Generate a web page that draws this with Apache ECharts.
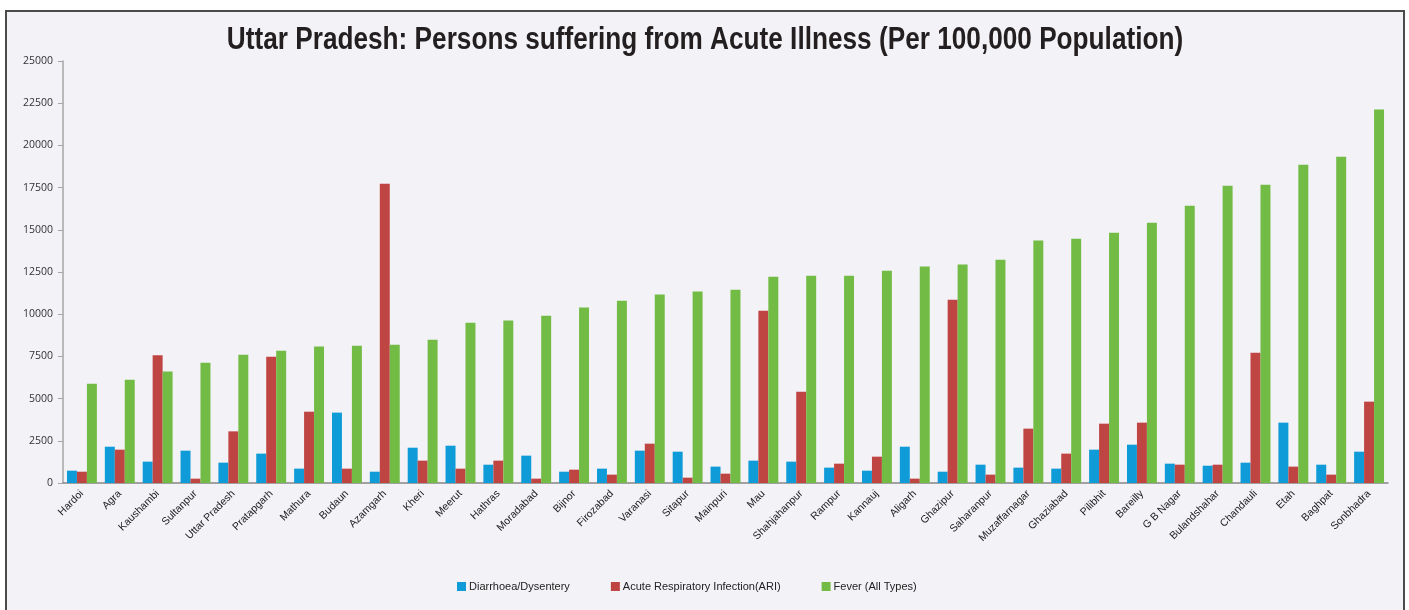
<!DOCTYPE html>
<html>
<head>
<meta charset="utf-8">
<script src="https://cdn.jsdelivr.net/npm/echarts@6/dist/echarts.min.js"></script>
<style>
  body { margin: 0; background: #ffffff; }
  #frame {
    position: absolute; left: 5px; top: 10px; width: 1396px; height: 620px;
    border: 2px solid #4b4b4b; background: #f3f2f7;
  }
  #chart { position: absolute; left: 0; top: 0; width: 1409px; height: 610px; }
</style>
</head>
<body>
<div id="frame"></div>
<div id="chart"></div>
<script>
// districts, sorted by fever cases
var districts = ['Hardoi', 'Agra', 'Kaushambi', 'Sultanpur', 'Uttar Pradesh', 'Pratapgarh', 'Mathura',
  'Budaun', 'Azamgarh', 'Kheri', 'Meerut', 'Hathras', 'Moradabad', 'Bijnor', 'Firozabad', 'Varanasi',
  'Sitapur', 'Mainpuri', 'Mau', 'Shahjahanpur', 'Rampur', 'Kannauj', 'Aligarh', 'Ghazipur', 'Saharanpur',
  'Muzaffarnagar', 'Ghaziabad', 'Pilibhit', 'Bareilly', 'G B Nagar', 'Bulandshahar', 'Chandauli', 'Etah',
  'Baghpat', 'Sonbhadra'];

var diarrhoea = [730, 2150, 1265, 1915, 1205, 1740, 850, 4170, 670, 2090, 2210, 1085, 1620, 670, 850, 1915,
  1855, 970, 1325, 1265, 910, 730, 2150, 670, 1085, 910, 850, 1975, 2270, 1145, 1025, 1205, 3575, 1085, 1855];

var ari = [670, 1975, 7565, 257, 3060, 7485, 4225, 850, 17730, 1325, 850, 1325, 257, 790, 495, 2330,
  316, 553, 10210, 5410, 1145, 1560, 257, 10860, 495, 3220, 1740, 3515, 3575, 1085, 1085, 7720, 970, 495, 4820];

var fever = [5885, 6120, 6600, 7130, 7600, 7840, 8080, 8135, 8195, 8490, 9500, 9620, 9915, 10390, 10800, 11160,
  11340, 11455, 12225, 12285, 12285, 12580, 12820, 12940, 13230, 14360, 14475, 14830, 15425, 16430, 17615,
  17675, 18860, 19335, 22120];

var yMin = 0, yMax = 25000, yStep = 2500;

var titleText = 'Uttar Pradesh: Persons suffering from Acute Illness (Per 100,000 Population)';
var sans = "'Liberation Sans', Arial, sans-serif";

var myChart = echarts.init(document.getElementById('chart'));

var option = {
  animation: false,
  // title drawn as graphic text so it can be squeezed like a narrow face
  graphic: [{
    type: 'text',
    x: 705,
    y: 25,
    scaleX: 0.845,
    style: {
      text: titleText,
      textAlign: 'center',
      textVerticalAlign: 'top',
      font: 'bold 31px ' + sans,
      fill: '#231f20'
    }
  }],
  legend: {
    top: 576,
    left: 452,
    icon: 'rect',
    itemWidth: 9,
    itemHeight: 9,
    itemGap: 41,
    textStyle: { fontFamily: sans, fontSize: 11, color: '#222', padding: [0, 0, 0, -2] }
  },
  grid: { left: 63, right: 21, top: 61, bottom: 127 },
  xAxis: {
    type: 'category',
    data: districts,
    axisLine: { lineStyle: { color: '#868686', width: 1.5 } },
    axisTick: { length: 5, lineStyle: { color: '#868686' } },
    axisLabel: { interval: 0, rotate: 45, margin: 9, fontFamily: sans, fontSize: 10.5, color: '#222' }
  },
  yAxis: {
    type: 'value',
    min: yMin,
    max: yMax,
    interval: yStep,
    splitLine: { show: false },
    axisLine: { show: true, lineStyle: { color: '#a6a6a6', width: 1.5 } },
    axisTick: { show: true, length: 5, lineStyle: { color: '#a6a6a6' } },
    axisLabel: {
      margin: 10, fontFamily: "'Open Sans', sans-serif", fontSize: 10.5, color: '#333',
      formatter: function (v) { return String(v); }
    }
  },
  series: [
    { name: 'Diarrhoea/Dysentery', type: 'bar', data: diarrhoea, barGap: '0%', barCategoryGap: '21%',
      itemStyle: { color: '#0e9bd7' } },
    { name: 'Acute Respiratory Infection(ARI)', type: 'bar', data: ari,
      itemStyle: { color: '#bf4543' } },
    { name: 'Fever (All Types)', type: 'bar', data: fever,
      itemStyle: { color: '#72bb44' } }
  ]
};

myChart.setOption(option);
</script>
</body>
</html>
